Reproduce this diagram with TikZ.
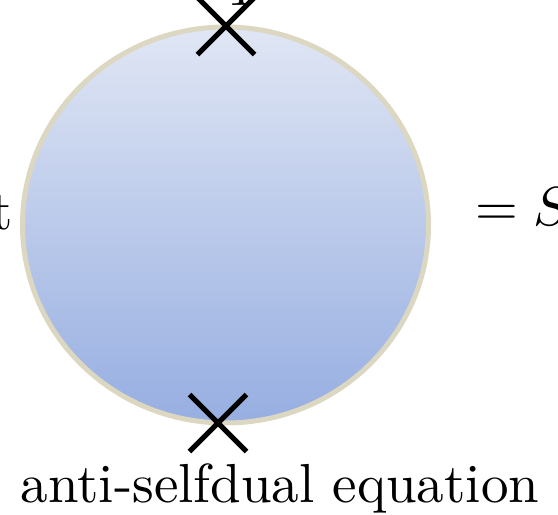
\documentclass[tikz,border=0pt]{standalone}
\usepackage{graphicx}
\usetikzlibrary{shapes.misc,shapes.geometric}
\definecolor{rimcol}{HTML}{DCD7C0}
\definecolor{topfill}{HTML}{E0E6F4}
\definecolor{botfill}{HTML}{96AEE1}
\newcommand{\bigtxt}[1]{\scalebox{5.5}{#1}}
\tikzset{
  label text/.style={inner sep=0pt, text=black},
  marker/.style={cross out, draw=black, line width=5pt, minimum size=52pt, inner sep=0pt},
}
\begin{document}
\begin{tikzpicture}[x=1pt,y=-1pt]
\useasboundingbox (0,0) rectangle (558,515);
\node[ellipse, draw=rimcol, line width=5pt, minimum width=406pt, minimum height=396pt, inner sep=0pt,
      top color=topfill, bottom color=botfill] (disk) at (225.5,225) {};
\node[marker] (topx) at (226,26) {};
\node[marker] (botx) at (218,423) {};
\node[label text, anchor=base] (one) at (241,5) {\bigtxt{1}};
\node[label text, anchor=base east] (tlab) at (13,229) {\bigtxt{t}};
\node[label text, anchor=base west] (rhs) at (475,225) {\bigtxt{$=S$}};
\node[label text, anchor=base] (eq) at (280,502) {\bigtxt{anti-selfdual equation}};
\end{tikzpicture}
\end{document}
